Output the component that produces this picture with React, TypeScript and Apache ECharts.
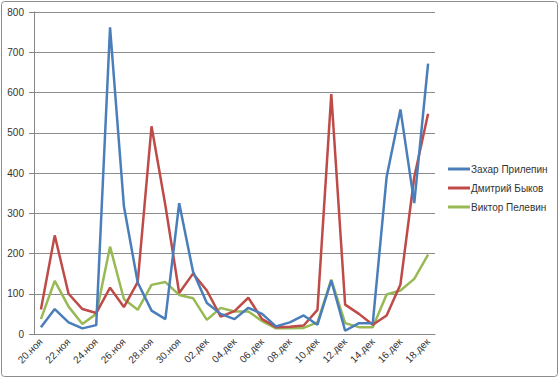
import React, { useEffect, useRef } from "react";
import * as echarts from "echarts";

const categories = [
  "20.ноя", "21.ноя", "22.ноя", "23.ноя", "24.ноя", "25.ноя", "26.ноя", "27.ноя", "28.ноя", "29.ноя", "30.ноя",
  "01.дек", "02.дек", "03.дек", "04.дек", "05.дек", "06.дек", "07.дек", "08.дек", "09.дек", "10.дек",
  "11.дек", "12.дек", "13.дек", "14.дек", "15.дек", "16.дек", "17.дек", "18.дек",
];

const prilepin = [17, 62, 29, 14, 22, 762, 318, 128, 58, 37, 325, 155, 77, 50, 37, 65, 50, 19, 29, 46, 23, 133, 8, 27, 27, 390, 558, 325, 672];
const bykov = [61, 245, 100, 62, 52, 115, 67, 129, 516, 320, 102, 150, 108, 43, 57, 90, 37, 17, 18, 21, 60, 596, 73, 50, 23, 46, 123, 390, 547];
const pelevin = [37, 132, 68, 25, 50, 217, 87, 60, 122, 129, 97, 89, 35, 65, 56, 56, 32, 14, 14, 15, 29, 135, 27, 17, 17, 98, 108, 137, 197];

const seriesNames = ["Захар Прилепин", "Дмитрий Быков", "Виктор Пелевин"];
const colors = ["#4a7ebb", "#be4b48", "#98b954"];

export default function App() {
  const ref = useRef<HTMLDivElement>(null);
  useEffect(() => {
    if (!ref.current) return;
    const chart = echarts.init(ref.current, null, { renderer: "svg" });
    const font = "'Liberation Sans', Arial, sans-serif";
    const data = [prilepin, bykov, pelevin];
    chart.setOption({
      animation: false,
      backgroundColor: "#ffffff",
      textStyle: { fontFamily: font },
      graphic: [
        {
          type: "rect",
          shape: { x: 1.5, y: 1.5, width: 556, height: 375, r: 3 },
          style: { fill: "none", stroke: "#8c8c8c", lineWidth: 1 },
          silent: true,
        },
      ],
      grid: { left: 34, right: 125, top: 12, bottom: 45, containLabel: false },
      legend: {
        orient: "vertical",
        left: 448,
        top: 164,
        padding: 0,
        itemWidth: 22,
        itemHeight: 3,
        itemGap: 9,
        icon: "rect",
        textStyle: { fontSize: 10, color: "#333", fontFamily: font, padding: [0, 0, 0, -4] },
        data: seriesNames,
      },
      xAxis: {
        type: "category",
        data: categories,
        boundaryGap: true,
        axisLine: { lineStyle: { color: "#868686", width: 1 } },
        axisTick: { interval: 1, length: 5, lineStyle: { color: "#868686" } },
        axisLabel: { interval: 1, rotate: 45, fontSize: 10, color: "#333", fontFamily: font, margin: 6 },
      },
      yAxis: {
        type: "value",
        min: 0,
        max: 800,
        interval: 100,
        axisLine: { show: true, lineStyle: { color: "#868686", width: 1 } },
        axisTick: { show: true, length: 5, lineStyle: { color: "#868686" } },
        axisLabel: { fontSize: 10, color: "#333", fontFamily: font, margin: 10 },
        splitLine: { lineStyle: { color: "#8c8c8c", width: 1 } },
      },
      series: seriesNames.map((name, i) => ({
        name,
        type: "line",
        data: data[i],
        symbol: "none",
        lineStyle: { width: 2.5, color: colors[i] },
        itemStyle: { color: colors[i] },
        z: 3 - i,
      })),
    });
    return () => chart.dispose();
  }, []);
  return (
    <div
      ref={ref}
      style={{ position: "fixed", left: 0, top: 0, width: 560, height: 379 }}
    />
  );
}
